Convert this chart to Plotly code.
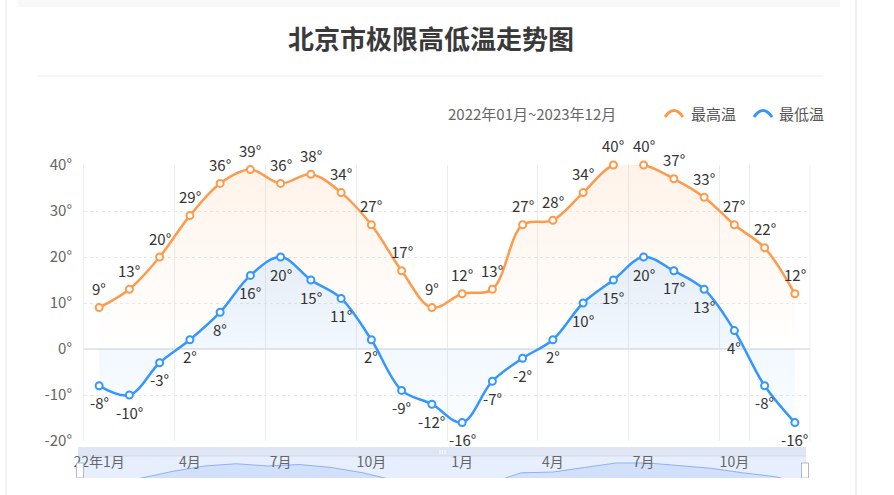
import plotly.graph_objects as go

W, H = 894, 495

# ---------------- data ----------------
months = ["2022-01", "2022-02", "2022-03", "2022-04", "2022-05", "2022-06",
          "2022-07", "2022-08", "2022-09", "2022-10", "2022-11", "2022-12",
          "2023-01", "2023-02", "2023-03", "2023-04", "2023-05", "2023-06",
          "2023-07", "2023-08", "2023-09", "2023-10", "2023-11", "2023-12"]
high_temps = [9, 13, 20, 29, 36, 39, 36, 38, 34, 27, 17, 9,
              12, 13, 27, 28, 34, 40, 40, 37, 33, 27, 22, 12]
low_temps = [-8, -10, -3, 2, 8, 16, 20, 15, 11, 2, -9, -12,
             -16, -7, -2, 2, 10, 15, 20, 17, 13, 4, -8, -16]
tick_months = ["2022-01", "2022-04", "2022-07", "2022-10",
               "2023-01", "2023-04", "2023-07", "2023-10"]
tick_labels = ["22年1月", "4月", "7月", "10月", "1月", "4月", "7月", "10月"]
y_ticks = [-20, -10, 0, 10, 20, 30, 40]
title_text = "北京市极限高低温走势图"
period_text = "2022年01月~2023年12月"
series_names = ["最高温", "最低温"]

ORANGE = "#ff9a4a"
BLUE = "#3397ff"
FONT = "Noto Sans CJK SC"


def px(x):
    return x / W


def py(y):
    return 1 - y / H


fig = go.Figure()

# mini chart inside the data-zoom slider (drawn first so main axis labels sit above)
fig.add_trace(go.Scatter(
    x=months, y=high_temps, mode="lines",
    line=dict(color="#8fb0f7", width=1),
    fill="tozeroy", fillcolor="rgba(143,176,247,0.22)",
    hoverinfo="skip", showlegend=False, xaxis="x", yaxis="y"))

# main series
fig.add_trace(go.Scatter(
    x=months, y=high_temps, name=series_names[0],
    mode="lines+markers",
    line=dict(color=ORANGE, width=2.5, shape="spline", smoothing=1),
    marker=dict(size=7, color="white", line=dict(color=ORANGE, width=2)),
    fill="tozeroy",
    fillgradient=dict(type="vertical",
                      colorscale=[[0, "rgba(255,154,74,0.0)"], [1, "rgba(255,154,74,0.12)"]],
                      start=0, stop=40),
    cliponaxis=False, showlegend=False, xaxis="x2", yaxis="y2"))

fig.add_trace(go.Scatter(
    x=months, y=low_temps, name=series_names[1],
    mode="lines+markers",
    line=dict(color=BLUE, width=2.5, shape="spline", smoothing=1),
    marker=dict(size=7, color="white", line=dict(color=BLUE, width=2)),
    fill="tozeroy",
    fillgradient=dict(type="vertical",
                      colorscale=[[0, "rgba(51,151,255,0.02)"], [1, "rgba(51,151,255,0.12)"]],
                      start=-16, stop=20),
    cliponaxis=False, showlegend=False, xaxis="x2", yaxis="y2"))

shapes = []
# card borders and decorations
shapes.append(dict(type="rect", xref="paper", yref="paper", x0=px(18), x1=px(840), y0=py(7), y1=py(0),
                   fillcolor="#f8f8f8", line=dict(width=0), layer="below"))
shapes.append(dict(type="line", xref="paper", yref="paper", x0=px(6), x1=px(6), y0=0, y1=1,
                   line=dict(color="#eeeeee", width=1.5), layer="below"))
shapes.append(dict(type="line", xref="paper", yref="paper", x0=px(856), x1=px(856), y0=0, y1=1,
                   line=dict(color="#eeeeee", width=1.5), layer="below"))
shapes.append(dict(type="line", xref="paper", yref="paper", x0=px(38), x1=px(823), y0=py(76), y1=py(76),
                   line=dict(color="#eeeeee", width=1), layer="below"))
# right edge of plot area
shapes.append(dict(type="line", xref="x2 domain", yref="y2 domain", x0=1, x1=1, y0=0, y1=1,
                   line=dict(color="#eeeeee", width=1), layer="below"))
# slider
shapes.append(dict(type="rect", xref="paper", yref="paper", x0=px(78), x1=px(806), y0=py(456), y1=py(447),
                   fillcolor="#dfe5f2", line=dict(width=0), layer="below"))
shapes.append(dict(type="rect", xref="paper", yref="paper", x0=px(78), x1=px(806), y0=py(478), y1=py(456),
                   fillcolor="#e7eefe", line=dict(width=0), layer="below"))
shapes.append(dict(type="line", xref="paper", yref="paper", x0=px(78), x1=px(806), y0=py(456), y1=py(456),
                   line=dict(color="#d2dbee", width=1), layer="below"))
for hx in (80, 805):
    shapes.append(dict(type="rect", xref="paper", yref="paper", x0=px(hx - 3.5), x1=px(hx + 3.5),
                       y0=py(478), y1=py(463), fillcolor="white",
                       line=dict(color="#acb8d1", width=1), layer="above"))
for gx in (440, 442.5, 445):
    shapes.append(dict(type="line", xref="paper", yref="paper", x0=px(gx), x1=px(gx),
                       y0=py(454), y1=py(450), line=dict(color="white", width=1), layer="above"))
# bottom white cover (chart canvas ends)
shapes.append(dict(type="rect", xref="paper", yref="paper", x0=px(7), x1=px(855), y0=0, y1=py(478),
                   fillcolor="white", line=dict(width=0), layer="above"))
# legend icons
for (x0, color) in ((665, ORANGE), (754, BLUE)):
    x1 = x0 + 18
    path = (f"M {px(x0)},{py(117)} Q {px((x0 + x1) / 2)},{py(104)} {px(x1)},{py(117)}")
    shapes.append(dict(type="path", xref="paper", yref="paper", path=path,
                       line=dict(color=color, width=3), layer="above"))

annotations = [
    dict(text=f"<b>{title_text}</b>", x=px(431), y=py(37), xref="paper", yref="paper",
         showarrow=False, font=dict(size=26, color="#3a3a3a", family=FONT),
         xanchor="center", yanchor="middle"),
    dict(text=period_text, x=px(446), y=py(113), xref="paper", yref="paper",
         showarrow=False, font=dict(size=15, color="#666666", family=FONT),
         xanchor="left", yanchor="middle"),
    dict(text=series_names[0], x=px(689), y=py(113), xref="paper", yref="paper",
         showarrow=False, font=dict(size=15, color="#555555", family=FONT),
         xanchor="left", yanchor="middle"),
    dict(text=series_names[1], x=px(777), y=py(113), xref="paper", yref="paper",
         showarrow=False, font=dict(size=15, color="#555555", family=FONT),
         xanchor="left", yanchor="middle"),
]

# data labels: above the high series, below the low series
for m, v in zip(months, high_temps):
    annotations.append(dict(text=f"{v}°", x=m, y=v, xref="x2", yref="y2", showarrow=False,
                            yshift=19, xanchor="center", yanchor="middle",
                            font=dict(size=15, color="#333333", family=FONT)))
for m, v in zip(months, low_temps):
    annotations.append(dict(text=f"{v}°", x=m, y=v, xref="x2", yref="y2", showarrow=False,
                            yshift=-17, xanchor="center", yanchor="middle",
                            font=dict(size=15, color="#333333", family=FONT)))

fig.update_layout(
    width=W, height=H,
    margin=dict(l=0, r=0, t=0, b=0, pad=0, autoexpand=False),
    paper_bgcolor="white", plot_bgcolor="rgba(0,0,0,0)",
    font=dict(family=FONT, color="#666666"),
    showlegend=False,
    shapes=shapes, annotations=annotations,
    xaxis=dict(domain=[px(78), px(806)], type="category", range=[0, 23], visible=False,
               fixedrange=True, anchor="y", automargin=False),
    yaxis=dict(domain=[py(478), py(456)], range=[20.1, 49.3], visible=False,
               fixedrange=True, anchor="x", automargin=False),
    xaxis2=dict(domain=[px(84), px(810)], type="category", range=[-0.5, 23.5],
                anchor="y2", tickmode="array", tickvals=tick_months, ticktext=tick_labels,
                tickson="boundaries", showgrid=True, gridcolor="#ececec", gridwidth=1,
                ticks="", ticklen=0, tickangle=0, automargin=False,
                tickfont=dict(size=14, color="#666666", family=FONT),
                ticklabelstandoff=11, showline=False, zeroline=False, fixedrange=True),
    yaxis2=dict(domain=[py(441), py(165)], range=[-20, 40], anchor="x2",
                tickmode="array", tickvals=y_ticks, ticktext=[f"{v}°" for v in y_ticks],
                showgrid=True, gridcolor="#e8e8e8", griddash="dot", gridwidth=1,
                zeroline=True, zerolinecolor="#e6e6e6", zerolinewidth=1.5,
                showline=True, linecolor="#eeeeee", linewidth=1, automargin=False,
                ticks="", tickfont=dict(size=15, color="#666666", family=FONT),
                ticklabelstandoff=8, fixedrange=True),
)

fig.write_html("out.html", config={"displayModeBar": False},
               post_script="document.body.style.margin='0';")
